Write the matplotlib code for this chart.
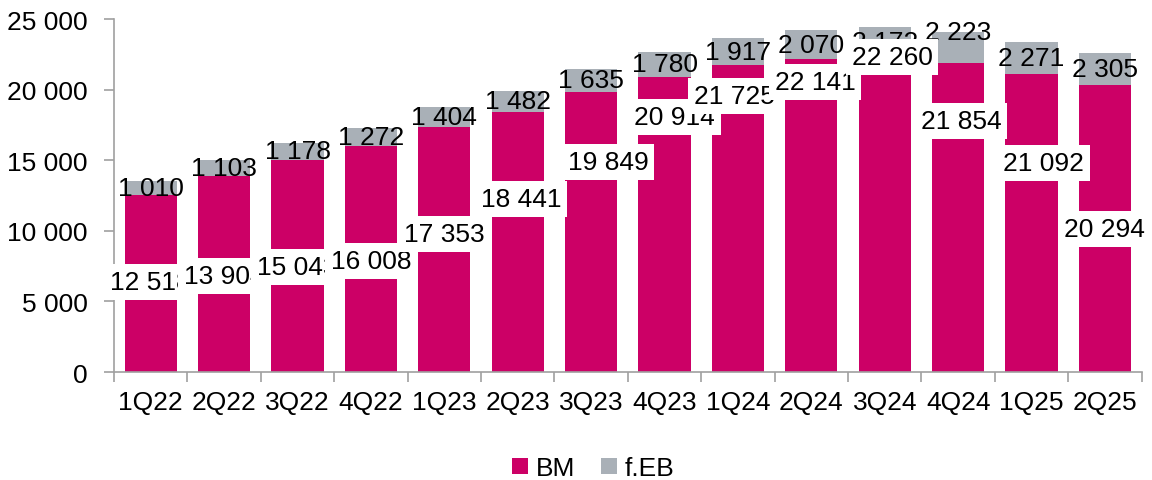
import numpy as np
import matplotlib
matplotlib.use("Agg")
import matplotlib.pyplot as plt

plt.rcParams['font.family'] = ['Liberation Sans', 'DejaVu Sans']

# data
quarters = ['1Q22', '2Q22', '3Q22', '4Q22', '1Q23', '2Q23', '3Q23', '4Q23',
            '1Q24', '2Q24', '3Q24', '4Q24', '1Q25', '2Q25']
bm = [12518, 13904, 15043, 16008, 17353, 18441, 19849, 20914,
      21725, 22141, 22260, 21854, 21092, 20294]
feb = [1010, 1103, 1178, 1272, 1404, 1482, 1635, 1780,
       1917, 2070, 2172, 2223, 2271, 2305]

# where the BM labels sit (they are not centred in the original)
bm_label_y = [6374, 6799, 7436, 7861, 9773, 12252, 14873, 18060,
              19547, 20538, 22309, 17776, 14802, 10127]
bm_label_dx = [0, 0, 0, 0, 0, 0.05, 0.23, 0.14, -0.05, 0.05, 0.1, 0.04, 0.16, 0]
feb_label_dy = [0, 0, 0, 0, 0, 0, 0, 0, 0, 0, 0, 1100, 0, 0]

c_bm = '#CC0066'
c_feb = '#A9B0B7'
c_axis = '#A0A0A0'
fs = 19

fig = plt.figure(figsize=(11.52, 4.81), dpi=100)
ax = fig.add_axes([0.099, 0.2245, 0.892, 0.7339])

x = np.arange(len(quarters))
w = 0.71
ax.bar(x, bm, w, color=c_bm, label='BM', zorder=2)
ax.bar(x, feb, w, bottom=bm, color=c_feb, label='f.EB', zorder=2)

# f.EB labels (no box)
for i in range(len(x)):
    yy = bm[i] + feb[i] / 2 + feb_label_dy[i]
    ax.text(x[i], yy, f"{feb[i]:,}".replace(',', ' '), ha='center', va='center',
            fontsize=fs, zorder=5)

# BM labels with white boxes, later ones on top
for i in range(len(x)):
    ax.text(x[i] + bm_label_dx[i], bm_label_y[i], f"{bm[i]:,}".replace(',', ' '),
            ha='center', va='center', fontsize=fs, zorder=10 + i, clip_on=False,
            bbox=dict(boxstyle='square,pad=0.22', fc='white', ec='none'))

ax.set_xlim(-0.5, len(quarters) - 0.5)
ax.set_ylim(0, 25000)
ax.set_yticks(np.arange(0, 25001, 5000))
ax.set_yticklabels([f"{v:,}".replace(',', ' ') for v in range(0, 25001, 5000)])

ax.set_xticks(x)
ax.set_xticklabels(quarters)
ax.set_xticks(np.arange(-0.5, len(quarters)), minor=True)
ax.tick_params(axis='x', which='major', length=0, pad=13, labelsize=fs)
ax.tick_params(axis='x', which='minor', length=7, direction='out', color=c_axis, width=1.2)
ax.tick_params(axis='y', length=7, direction='out', color=c_axis, width=1.2,
               labelsize=fs, pad=12)

for s in ['top', 'right']:
    ax.spines[s].set_visible(False)
for s in ['left', 'bottom']:
    ax.spines[s].set_color(c_axis)
    ax.spines[s].set_linewidth(1.2)

fig.legend(loc='lower center', bbox_to_anchor=(0.515, -0.05), ncol=2, frameon=False,
           fontsize=fs, handlelength=0.6, handleheight=0.6, handletextpad=0.3,
           columnspacing=1.0)

fig.savefig('out.png', dpi=100)
